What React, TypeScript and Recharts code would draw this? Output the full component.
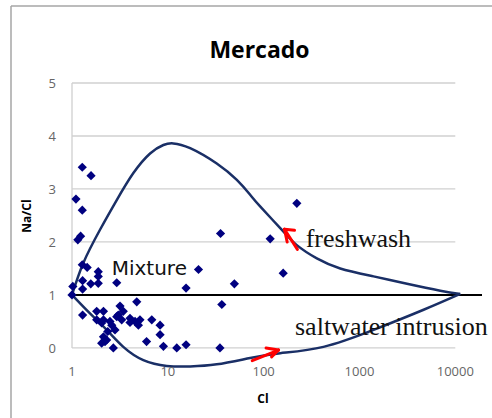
import React from "react";
import {
  ComposedChart,
  XAxis,
  YAxis,
  Scatter,
  Line,
  ReferenceLine,
} from "recharts";

// Na/Cl vs Cl samples
const samples = [
  { x: 1.28, y: 3.41 }, { x: 1.58, y: 3.25 }, { x: 1.1, y: 2.81 }, { x: 1.28, y: 2.6 },
  { x: 1.23, y: 2.11 }, { x: 1.15, y: 2.04 }, { x: 1.28, y: 1.57 }, { x: 1.44, y: 1.52 },
  { x: 1.88, y: 1.44 }, { x: 1.88, y: 1.35 }, { x: 1.88, y: 1.22 }, { x: 1.57, y: 1.21 },
  { x: 1.29, y: 1.27 }, { x: 1.29, y: 1.11 }, { x: 1.02, y: 1.16 }, { x: 1.0, y: 1.0 },
  { x: 2.93, y: 1.23 },
  { x: 1.29, y: 0.62 }, { x: 1.81, y: 0.69 }, { x: 2.13, y: 0.69 }, { x: 3.17, y: 0.79 },
  { x: 4.74, y: 0.87 }, { x: 3.43, y: 0.69 }, { x: 3.04, y: 0.62 }, { x: 1.81, y: 0.53 },
  { x: 2.13, y: 0.53 }, { x: 2.49, y: 0.5 }, { x: 2.93, y: 0.59 }, { x: 3.3, y: 0.53 },
  { x: 4.03, y: 0.56 }, { x: 4.03, y: 0.48 }, { x: 4.55, y: 0.5 }, { x: 5.12, y: 0.53 },
  { x: 4.93, y: 0.43 }, { x: 6.8, y: 0.53 }, { x: 8.3, y: 0.43 }, { x: 2.81, y: 0.34 },
  { x: 2.6, y: 0.43 }, { x: 2.36, y: 0.31 }, { x: 2.04, y: 0.47 }, { x: 2.13, y: 0.21 },
  { x: 2.3, y: 0.15 }, { x: 2.04, y: 0.09 }, { x: 2.21, y: 0.12 }, { x: 2.7, y: 0.0 },
  { x: 6.0, y: 0.12 }, { x: 8.3, y: 0.25 }, { x: 9.0, y: 0.03 }, { x: 12.4, y: 0.0 },
  { x: 15.5, y: 0.06 }, { x: 35, y: 0.0 },
  { x: 15.5, y: 1.13 }, { x: 20.9, y: 1.48 }, { x: 49.5, y: 1.21 }, { x: 35.5, y: 2.16 },
  { x: 36.6, y: 0.82 }, { x: 117, y: 2.06 }, { x: 160, y: 1.41 }, { x: 222, y: 2.73 },
];

// hand drawn envelope, upper and lower branch
const upperEnvelope = [
  { x: 1, y: 1.0 }, { x: 1.31, y: 1.6 }, { x: 1.96, y: 2.23 }, { x: 2.93, y: 2.79 },
  { x: 4.37, y: 3.3 }, { x: 6.53, y: 3.67 }, { x: 8.99, y: 3.83 }, { x: 11.4, y: 3.86 },
  { x: 17.1, y: 3.77 }, { x: 32.4, y: 3.48 }, { x: 52.5, y: 3.17 }, { x: 72.3, y: 2.89 },
  { x: 91.9, y: 2.67 }, { x: 149, y: 2.26 }, { x: 222, y: 1.94 }, { x: 359, y: 1.69 },
  { x: 630, y: 1.5 }, { x: 1403, y: 1.35 }, { x: 3133, y: 1.21 }, { x: 6970, y: 1.08 },
  { x: 11280, y: 1.02 },
];
const lowerEnvelope = [
  { x: 1, y: 1.0 }, { x: 1.54, y: 0.65 }, { x: 2.3, y: 0.34 }, { x: 3.43, y: 0.02 },
  { x: 5.55, y: -0.23 }, { x: 9.75, y: -0.34 }, { x: 17.1, y: -0.35 }, { x: 32.4, y: -0.31 },
  { x: 72.3, y: -0.19 }, { x: 149, y: -0.1 }, { x: 421, y: 0.02 }, { x: 1403, y: 0.34 },
  { x: 4670, y: 0.72 }, { x: 11280, y: 1.02 },
];

const xTicks = [1, 10, 100, 1000, 10000];
const yTicks = [0, 1, 2, 3, 4, 5];

// red arrows (shaft start, tip, two barbs)
const freshArrow = { from: { x: 225, y: 1.86 }, tip: { x: 165, y: 2.24 }, barbs: [{ x: 210, y: 2.22 }, { x: 176, y: 2.0 }] };
const saltArrow = { from: { x: 76, y: -0.24 }, tip: { x: 143, y: -0.04 }, barbs: [{ x: 106, y: 0.0 }, { x: 121, y: -0.17 }] };

const NAVY = "#000080";
const CURVE = "#1a2f66";
const GRID = "#d0d0d0";
const TICK = { fontSize: 13, fill: "#666", fontFamily: "Open Sans" };

function Diamond(props: any) {
  const { cx, cy } = props;
  const r = 4.6;
  return (
    <path
      d={`M${cx},${cy - r}L${cx + r},${cy}L${cx},${cy + r}L${cx - r},${cy}Z`}
      fill={NAVY}
    />
  );
}

function arrowLines(a: typeof freshArrow, key: string) {
  const segs = [
    [a.from, a.tip],
    [a.barbs[0], a.tip],
    [a.barbs[1], a.tip],
  ];
  return segs.map((s, i) => (
    <ReferenceLine
      key={key + i}
      segment={s as any}
      stroke="#ff0000"
      strokeWidth={3}
      strokeLinecap="round"
    />
  ));
}

export default function App() {
  return (
    <div style={{ position: "absolute", left: 0, top: 0, width: 492, height: 418 }}>
      <ComposedChart
        width={492}
        height={418}
        margin={{ top: 83, right: 10, left: 32, bottom: 31 }}
      >
        <XAxis
          dataKey="x"
          type="number"
          scale="log"
          domain={[1, 19000]}
          ticks={xTicks}
          axisLine={false}
          tickLine={false}
          tickSize={0}
          tickMargin={0}
          height={20}
          tick={TICK}
        />
        <YAxis
          dataKey="y"
          type="number"
          domain={[-0.36, 5]}
          ticks={yTicks}
          axisLine={false}
          tickLine={false}
          tickSize={0}
          tickMargin={16}
          width={40}
          tick={TICK}
        />
        {yTicks.map((t) => (
          <ReferenceLine
            key={"g" + t}
            segment={[{ x: 1, y: t }, { x: 10000, y: t }]}
            stroke={GRID}
            strokeWidth={1.3}
          />
        ))}
        <ReferenceLine
          segment={[{ x: 1, y: 0 }, { x: 1, y: 5 }]}
          stroke={GRID}
          strokeWidth={1.3}
        />
        <ReferenceLine y={1} stroke="#000" strokeWidth={2} />
        <Scatter data={samples} shape={Diamond} isAnimationActive={false} />
        <Line
          data={upperEnvelope}
          dataKey="y"
          type="natural"
          stroke={CURVE}
          strokeWidth={2.5}
          dot={false}
          isAnimationActive={false}
        />
        <Line
          data={lowerEnvelope}
          dataKey="y"
          type="natural"
          stroke={CURVE}
          strokeWidth={2.5}
          dot={false}
          isAnimationActive={false}
        />
        {arrowLines(freshArrow, "f")}
        {arrowLines(saltArrow, "s")}
      </ComposedChart>
      <svg
        width={492}
        height={418}
        style={{ position: "absolute", left: 0, top: 0, pointerEvents: "none" }}
      >
        <line x1={11} y1={6} x2={11} y2={418} stroke="#a6a6a6" strokeWidth={1.5} />
        <line x1={11} y1={6} x2={492} y2={6} stroke="#a6a6a6" strokeWidth={1.5} />
        <text x={259.5} y={58} textAnchor="middle" fontFamily="Open Sans" fontWeight="bold" fontSize={23} fill="#000">
          Mercado
        </text>
        <text
          transform="translate(31,216) rotate(-90)"
          textAnchor="middle"
          fontFamily="Open Sans"
          fontWeight="bold"
          fontSize={12}
          fill="#000"
        >
          Na/Cl
        </text>
        <text x={263} y={403} textAnchor="middle" fontFamily="Open Sans" fontWeight="bold" fontSize={12} fill="#000">
          Cl
        </text>
        <text x={111.7} y={275} fontFamily="DejaVu Sans" fontSize={20} fill="#111">
          Mixture
        </text>
        <text x={305.7} y={246.7} fontFamily="Liberation Serif" fontSize={26} fill="#111">
          freshwash
        </text>
        <text x={295} y={335} fontFamily="Liberation Serif" fontSize={26} fill="#111">
          saltwater intrusion
        </text>
      </svg>
    </div>
  );
}
